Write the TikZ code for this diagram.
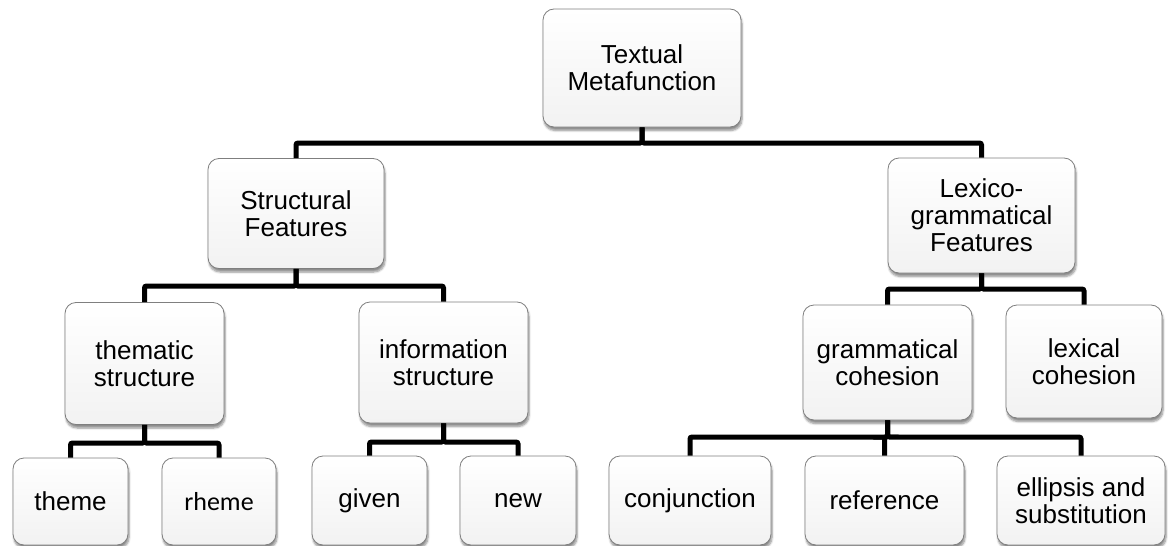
\documentclass[tikz,border=0pt]{standalone}
\usepackage{fontspec}
\setmainfont{Liberation Sans}
\newfontfamily\calfont{Carlito}
\usetikzlibrary{shadows.blur}
\definecolor{boxborder}{HTML}{7F7F7F}
\definecolor{boxbottom}{HTML}{F2F2F2}
\tikzset{
  box/.style={draw=boxborder, line width=0.8pt, rounded corners=11pt,
    top color=white, bottom color=boxbottom, align=center,
    font=\fontsize{26}{27}\selectfont, inner sep=0pt,
    blur shadow={shadow xshift=1pt, shadow yshift=-3.5pt, shadow blur steps=6, shadow opacity=45}},
  conn/.style={line width=5pt, black, rounded corners=2pt}
}
\begin{document}
\begin{tikzpicture}[x=1pt,y=-1pt]
\useasboundingbox (0,0) rectangle (1168,546);
% nodes
\node[box, minimum width=198pt, minimum height=118pt] (root) at (642,68) {Textual\\Metafunction};
\node[box, minimum width=176pt, minimum height=110pt] (struct) at (296,213.5) {Structural\\Features};
\node[box, minimum width=187pt, minimum height=115pt] (lex) at (981.5,215.5) {Lexico-\\grammatical\\Features};
\node[box, minimum width=159pt, minimum height=122pt] (them) at (144.5,363.5) {thematic\\structure};
\node[box, minimum width=169pt, minimum height=121pt] (info) at (443.5,362.5) {information\\structure};
\node[box, minimum width=115pt, minimum height=87pt] (theme) at (70.5,501.5) {theme};
\node[box, minimum width=114pt, minimum height=87pt] (rheme) at (219,501.5) {\calfont rheme};
\node[box, minimum width=115pt, minimum height=89pt] (given) at (369.5,500.5) {given};
\node[box, minimum width=116pt, minimum height=89pt] (new) at (518,500.5) {new};
\node[box, minimum width=169pt, minimum height=115pt] (gram) at (887.5,362.5) {grammatical\\cohesion};
\node[box, minimum width=156pt, minimum height=113pt] (lexc) at (1084,361.5) {lexical\\cohesion};
\node[box, minimum width=162pt, minimum height=89pt] (conj) at (690,500.5) {conjunction};
\node[box, minimum width=159pt, minimum height=89pt] (ref) at (884.5,500.5) {reference};
\node[box, minimum width=168pt, minimum height=89pt] (ell) at (1081,500.5) {ellipsis and\\substitution};
% connectors
\draw[conn] (root.south) -- (root.south |- 0,143) -| (struct.north);
\draw[conn] (root.south) -- (root.south |- 0,143) -| (lex.north);
\draw[conn] (struct.south) -- (struct.south |- 0,286) -| (them.north);
\draw[conn] (struct.south) -- (struct.south |- 0,286) -| (info.north);
\draw[conn] (them.south) -- (them.south |- 0,443) -| (theme.north);
\draw[conn] (them.south) -- (them.south |- 0,443) -| (rheme.north);
\draw[conn] (info.south) -- (info.south |- 0,442) -| (given.north);
\draw[conn] (info.south) -- (info.south |- 0,442) -| (new.north);
\draw[conn] (lex.south) -- (lex.south |- 0,289) -| (gram.north);
\draw[conn] (lex.south) -- (lex.south |- 0,289) -| (lexc.north);
\draw[conn] (gram.south) -- (gram.south |- 0,437) -| (conj.north);
\draw[conn] (gram.south) -- (gram.south |- 0,437) -| (ref.north);
\draw[conn] (gram.south) -- (gram.south |- 0,437) -| (ell.north);
\end{tikzpicture}
\end{document}
